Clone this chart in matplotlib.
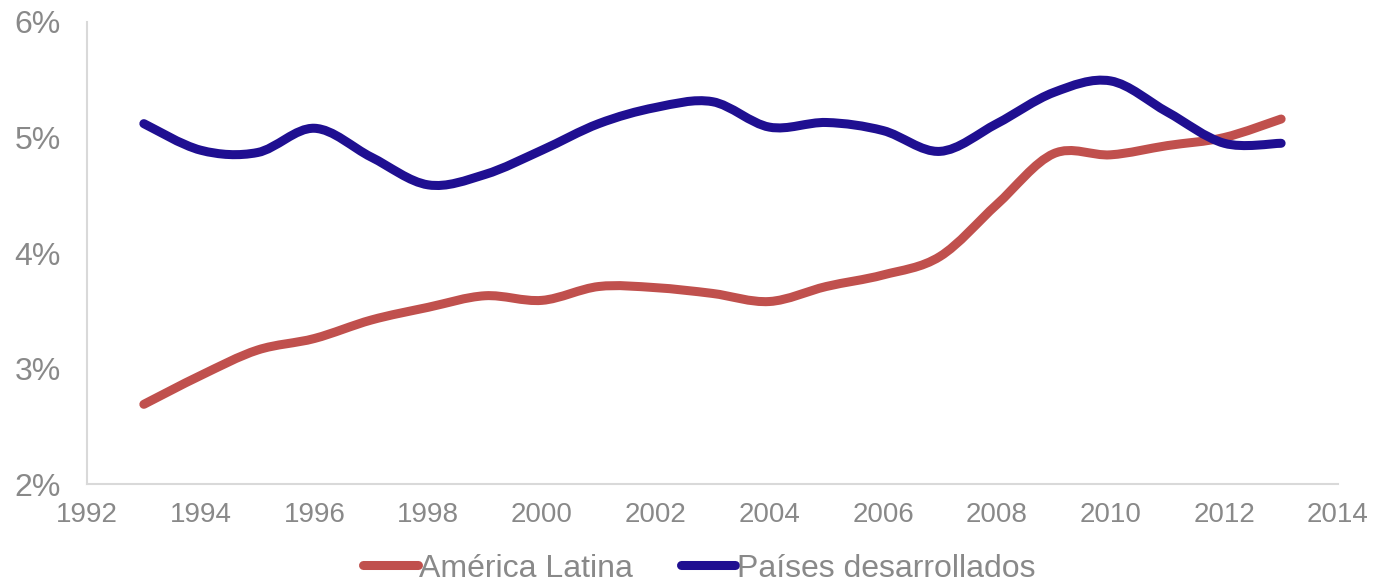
import matplotlib
matplotlib.use("Agg")
import matplotlib.pyplot as plt
from matplotlib.path import Path
from matplotlib.patches import PathPatch
from matplotlib.lines import Line2D
from matplotlib.ticker import FuncFormatter

plt.rcParams['font.family'] = ['Liberation Sans', 'DejaVu Sans']

years = [1993, 1994, 1995, 1996, 1997, 1998, 1999, 2000, 2001, 2002, 2003,
         2004, 2005, 2006, 2007, 2008, 2009, 2010, 2011, 2012, 2013]
america_latina = [2.69, 2.94, 3.16, 3.26, 3.42, 3.53, 3.63, 3.59, 3.71, 3.70, 3.65,
                  3.58, 3.71, 3.81, 3.97, 4.42, 4.86, 4.85, 4.93, 5.00, 5.16]
paises_desarrollados = [5.12, 4.89, 4.87, 5.08, 4.83, 4.59, 4.68, 4.89, 5.12, 5.26, 5.31,
                        5.09, 5.13, 5.06, 4.88, 5.12, 5.39, 5.49, 5.22, 4.95, 4.95]

red = '#C0504D'
blue = '#1F0F91'
grey = '#898989'


def smooth_path(xs, ys):
    # Excel-style smoothed line: cubic bezier through the points
    pts = list(zip(xs, ys))
    verts = [pts[0]]
    codes = [Path.MOVETO]
    n = len(pts)
    for i in range(n - 1):
        p0 = pts[i - 1] if i > 0 else pts[i]
        p1 = pts[i]
        p2 = pts[i + 1]
        p3 = pts[i + 2] if i + 2 < n else pts[i + 1]
        c1 = (p1[0] + (p2[0] - p0[0]) / 6, p1[1] + (p2[1] - p0[1]) / 6)
        c2 = (p2[0] - (p3[0] - p1[0]) / 6, p2[1] - (p3[1] - p1[1]) / 6)
        verts += [c1, c2, p2]
        codes += [Path.CURVE4] * 3
    return Path(verts, codes)


fig = plt.figure(figsize=(13.74, 5.85), dpi=100)
ax = fig.add_axes([0.0633, 0.1726, 0.9105, 0.7898])

for vals, col in [(america_latina, red), (paises_desarrollados, blue)]:
    patch = PathPatch(smooth_path(years, vals), facecolor='none', edgecolor=col,
                      lw=6.5, capstyle='round', joinstyle='round')
    ax.add_patch(patch)

ax.set_xlim(1992, 2014)
ax.set_ylim(2, 6)
ax.set_xticks(range(1992, 2015, 2))
ax.set_yticks([2, 3, 4, 5, 6])
ax.yaxis.set_major_formatter(FuncFormatter(lambda v, p: f'{v:.0f}%'))
ax.tick_params(axis='y', length=0, labelsize=23, labelcolor=grey, pad=19)
ax.tick_params(axis='x', length=0, labelsize=20, labelcolor=grey, pad=13)

for s in ['top', 'right']:
    ax.spines[s].set_visible(False)
for s in ['left', 'bottom']:
    ax.spines[s].set_color('#D9D9D9')
    ax.spines[s].set_linewidth(1.5)

handles = [Line2D([0], [0], color=red, lw=6.5, solid_capstyle='round'),
           Line2D([0], [0], color=blue, lw=6.5, solid_capstyle='round')]
fig.legend(handles, ['América Latina', 'Países desarrollados'], loc='center',
           bbox_to_anchor=(0.509, 0.028), ncol=2, frameon=False, fontsize=23,
           labelcolor=grey, handlelength=1.7, handletextpad=0.05, columnspacing=1.5,
           borderpad=0)

fig.savefig('out.png', dpi=100)
